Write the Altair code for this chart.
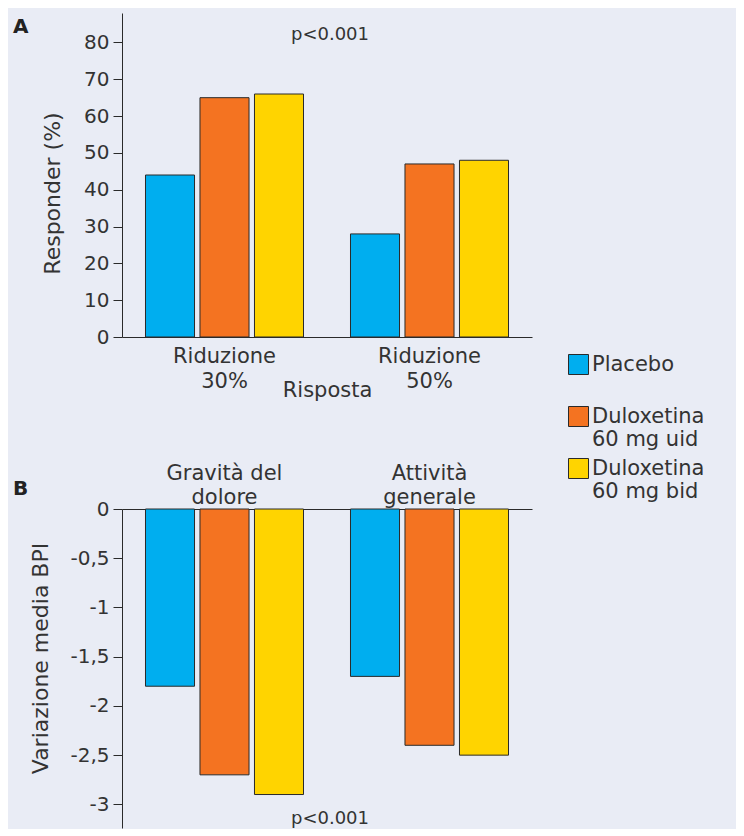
import altair as alt
import pandas as pd

# ---------------- data ----------------
series = ["Placebo", "Duloxetina\n60 mg uid", "Duloxetina\n60 mg bid"]
colors = ["#00aeef", "#f47321", "#ffd400"]

a_categories = ["Riduzione\n30%", "Riduzione\n50%"]
a_placebo = [44, 28]
a_uid = [65, 47]
a_bid = [66, 48]
a_ticks = [0, 10, 20, 30, 40, 50, 60, 70, 80]

b_categories = ["Gravità del\ndolore", "Attività\ngenerale"]
b_placebo = [-1.8, -1.7]
b_uid = [-2.7, -2.4]
b_bid = [-2.9, -2.5]
b_ticks = [0, -0.5, -1, -1.5, -2, -2.5, -3]

FONT = "DejaVu Sans"
TXT = "#333333"
LINE = "#2a2a2a"
BG = "#e9ecf5"

W = 410
HA = 324
HB = 319


def long_df(cats, vals_list):
    rows = []
    for ci, c in enumerate(cats):
        for s, vals in zip(series, vals_list):
            rows.append({"category": c, "series": s, "value": vals[ci]})
    return pd.DataFrame(rows)


df_a = long_df(a_categories, [a_placebo, a_uid, a_bid])
df_b = long_df(b_categories, [b_placebo, b_uid, b_bid])

color = alt.Color(
    "series:N",
    sort=series,
    scale=alt.Scale(domain=series, range=colors),
    legend=alt.Legend(
        title=None,
        orient="none",
        legendX=446,
        legendY=341,
        padding=0,
        symbolType="square",
        symbolSize=400,
        symbolStrokeColor=LINE,
        symbolStrokeWidth=1,
        symbolOpacity=1,
        labelFont=FONT,
        labelFontSize=21,
        labelColor=TXT,
        labelOffset=3,
        labelExpr="datum.label == 'Placebo' ? ['Placebo', ' '] : split(datum.label, '\\n')",
        rowPadding=6,
        labelLimit=300,
    ),
)

xoff_scale = alt.Scale(paddingInner=0.1, paddingOuter=0.431)

# ---------------- panel A ----------------
bars_a = alt.Chart(df_a).mark_bar(stroke=LINE, strokeWidth=1, opacity=1).encode(
    x=alt.X(
        "category:N",
        sort=a_categories,
        scale=alt.Scale(paddingInner=0, paddingOuter=0),
        axis=alt.Axis(
            title="Risposta",
            labelExpr="split(datum.label, '\\n')",
            labelAngle=0,
            ticks=False,
            tickSize=0,
            labelPadding=8,
            labelBaseline="top",
            labelLineHeight=25,
            labelFontSize=21,
            titleFontSize=21,
            titleY=59,
            titleBaseline="alphabetic",
        ),
    ),
    xOffset=alt.XOffset("series:N", sort=series, scale=xoff_scale),
    y=alt.Y(
        "value:Q",
        scale=alt.Scale(domain=[0, 88], nice=False, zero=True),
        axis=alt.Axis(
            values=a_ticks,
            title="Responder (%)",
            grid=False,
            tickSize=9,
            labelPadding=4,
            titleFontSize=22,
            titlePadding=19,
            titleY=180,
        ),
    ),
    color=color,
)

lab_a = alt.Chart(pd.DataFrame({"t": ["A"]})).mark_text(
    font=FONT, fontSize=20, fontWeight="bold", color="#222", align="left", baseline="alphabetic"
).encode(text="t:N", x=alt.value(-109), y=alt.value(20))

p_a = alt.Chart(pd.DataFrame({"t": ["p<0.001"], "y": [80.6]})).mark_text(
    font=FONT, fontSize=18, color=TXT, align="center", baseline="alphabetic"
).encode(text="t:N", x=alt.value(208), y=alt.Y("y:Q"))

panel_a = alt.layer(bars_a, lab_a, p_a).properties(width=W, height=HA)

# ---------------- panel B ----------------
bars_b = alt.Chart(df_b).mark_bar(stroke=LINE, strokeWidth=1, opacity=1).encode(
    x=alt.X(
        "category:N",
        sort=b_categories,
        scale=alt.Scale(paddingInner=0, paddingOuter=0),
        axis=alt.Axis(
            title=None,
            orient="top",
            labelExpr="split(datum.label, '\\n')",
            labelAngle=0,
            ticks=False,
            tickSize=0,
            labelPadding=30,
            labelBaseline="alphabetic",
            labelLineHeight=24,
            labelFontSize=21,
        ),
    ),
    xOffset=alt.XOffset("series:N", sort=series, scale=xoff_scale),
    y=alt.Y(
        "value:Q",
        scale=alt.Scale(domain=[-3.24, 0], nice=False, zero=True),
        axis=alt.Axis(
            values=b_ticks,
            title="Variazione media BPI",
            grid=False,
            tickSize=9,
            labelPadding=4,
            titleFontSize=22,
            titlePadding=17,
            titleY=149,
            labelExpr="datum.value == 0 ? '0' : '-' + replace(toString(abs(datum.value)), '.', ',')",
        ),
    ),
    color=color,
)

lab_b = alt.Chart(pd.DataFrame({"t": ["B"]})).mark_text(
    font=FONT, fontSize=20, fontWeight="bold", color="#222", align="left", baseline="alphabetic"
).encode(text="t:N", x=alt.value(-109), y=alt.value(-14))

p_b = alt.Chart(pd.DataFrame({"t": ["p<0.001"], "y": [-3.2]})).mark_text(
    font=FONT, fontSize=18, color=TXT, align="center", baseline="alphabetic"
).encode(text="t:N", x=alt.value(208), y=alt.Y("y:Q"))

panel_b = alt.layer(bars_b, lab_b, p_b).properties(width=W, height=HB)

chart = (
    alt.concat(panel_a, panel_b, columns=1, spacing=62, align="each")
    .resolve_scale(y="independent", x="independent")
    .configure(background=BG, padding={"left": 5, "top": 5, "right": 31, "bottom": 0})
    .configure_view(stroke=None)
    .configure_axis(
        labelFont=FONT,
        titleFont=FONT,
        labelFontSize=20,
        titleFontSize=21,
        titleFontWeight="normal",
        labelColor=TXT,
        titleColor=TXT,
        domainColor=LINE,
        tickColor=LINE,
        domainWidth=1,
        tickWidth=1,
    )
)

chart.save("out.html", embed_options={"renderer": "svg", "actions": False})
